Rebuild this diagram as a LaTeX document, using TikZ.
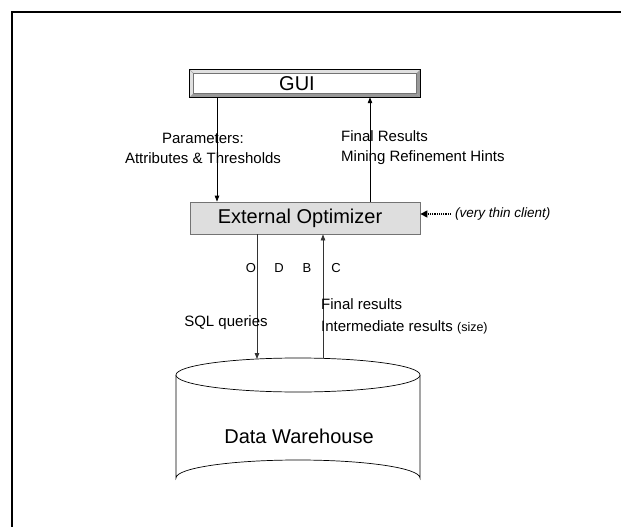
\documentclass[tikz,border=0pt]{standalone}
\usepackage{fontspec}
\setmainfont{Liberation Sans}
\usetikzlibrary{arrows.meta}
\tikzset{
  arr/.style={line width=0.8pt, -{Triangle[length=6pt,width=4.5pt]}},
  big/.style={font=\fontsize{20}{24}\selectfont},
  lbl/.style={font=\fontsize{15}{20}\selectfont, inner sep=0pt},
  letter/.style={font=\fontsize{13}{16}\selectfont, inner sep=0pt},
}
\begin{document}
\begin{tikzpicture}[x=1pt,y=-1pt]
\useasboundingbox (0,0) rectangle (621,527);
\clip (0,0) rectangle (621,527);
% outer frame
\draw[line width=2pt] (12,560) -- (12,12) -- (660,12);
% GUI bevel box
\node[big, minimum width=230pt, minimum height=27pt, inner sep=0pt] (gui) at (305,83.5) {};
\fill[black!12] (gui.north west) -- (gui.north east) -- ([xshift=-3.5pt,yshift=-3.5pt]gui.north east) -- ([xshift=3.5pt,yshift=-3.5pt]gui.north west) -- ([xshift=3.5pt,yshift=3.5pt]gui.south west) -- (gui.south west) -- cycle;
\fill[black!40] (gui.south east) -- (gui.north east) -- ([xshift=-3.5pt,yshift=-3.5pt]gui.north east) -- ([xshift=-3.5pt,yshift=3.5pt]gui.south east) -- ([xshift=3.5pt,yshift=3.5pt]gui.south west) -- (gui.south west) -- cycle;
\draw[black!55, fill=white, line width=0.5pt] ([xshift=3.5pt,yshift=-3.5pt]gui.north west) rectangle ([xshift=-3.5pt,yshift=3.5pt]gui.south east);
\draw[black!35, line width=0.4pt] (gui.north west) -- ([xshift=3.5pt,yshift=-3.5pt]gui.north west)
  (gui.north east) -- ([xshift=-3.5pt,yshift=-3.5pt]gui.north east)
  (gui.south west) -- ([xshift=3.5pt,yshift=3.5pt]gui.south west)
  (gui.south east) -- ([xshift=-3.5pt,yshift=3.5pt]gui.south east);
\draw[line width=0.8pt] (gui.north west) rectangle (gui.south east);
\node[big, inner sep=0pt] (guitext) at (297,84) {GUI};
% External optimizer
\node[big, draw=black!55, fill=black!13, line width=0.8pt, minimum width=230pt, minimum height=32pt, inner sep=0pt] (opt) at (305,218) {};
\node[big, inner sep=0pt] (opttext) at (300,218) {External Optimizer};
% Data warehouse cylinder
\node[minimum width=244pt, minimum height=138pt, inner sep=0pt] (dw) at (298,427) {};
\draw[line width=0.7pt, fill=white] (176,375) -- (176,478) arc[start angle=180, end angle=360, x radius=122, y radius=18] -- (420,375);
\draw[line width=0.7pt, fill=white] (298,375) ellipse[x radius=122, y radius=17];
\node[big, inner sep=0pt] (dwtext) at (299,436) {Data Warehouse};
\coordinate (dwin) at (257,359);
\coordinate (dwout) at (323,358.4);
% connectors
\draw[arr] ([xshift=-88pt]gui.south) -- ([xshift=-88pt]opt.north);
\draw[arr] ([xshift=65pt]opt.north) -- ([xshift=65pt]gui.south);
\draw[arr, black!80] (opt.south -| dwin) -- (dwin);
\draw[arr, black!80] (dwout) -- (opt.south -| dwout);
\coordinate (thin) at (451,214);
\draw[line width=1.2pt, densely dotted, -{Triangle[length=7pt,width=7pt]}] (thin) -- (opt.east |- thin);
% labels
\node[lbl, align=center] (params) at (203,148) {Parameters:\\Attributes \& Thresholds};
\node[lbl, align=left, anchor=west] (results) at (341,148) {Final Results\\Mining Refinement Hints};
\node[letter] (lO) at (251,268) {O};
\node[letter] (lD) at (279,268) {D};
\node[letter] (lB) at (307,268) {B};
\node[letter] (lC) at (336,268) {C};
\node[lbl] (sql) at (226,323) {SQL queries};
\node[lbl, align=left, anchor=west, font=\fontsize{15}{22}\selectfont] (fres) at (321,316.5) {Final results\\Intermediate results {\fontsize{12.5}{22}\selectfont (size)}};
\node[inner sep=0pt, anchor=west, font=\fontsize{13.5}{16}\selectfont\itshape] (client) at (455,214) {(very thin client)};
\end{tikzpicture}
\end{document}
